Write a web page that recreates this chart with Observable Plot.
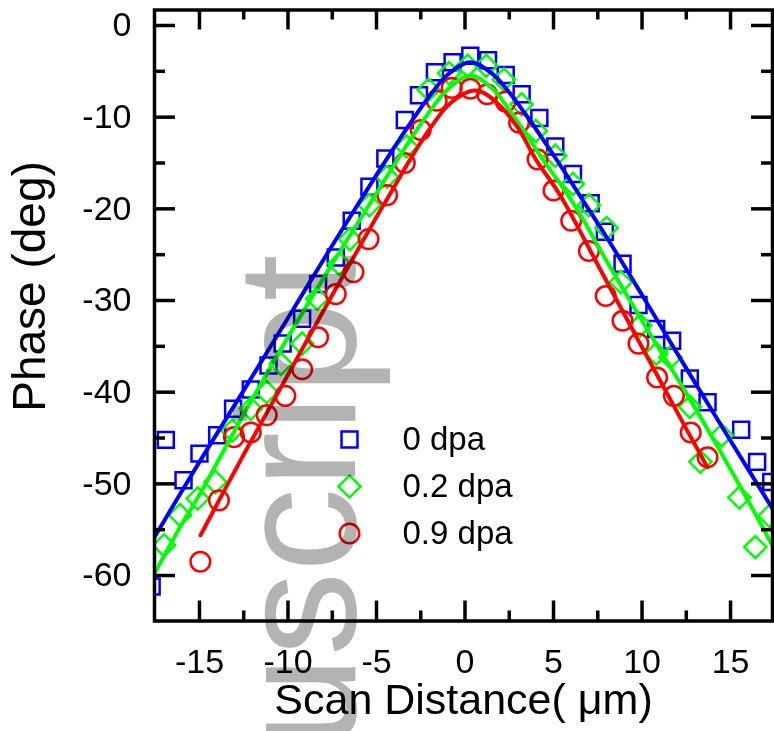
<!DOCTYPE html>
<html><head><meta charset="utf-8">
<script src="https://cdn.jsdelivr.net/npm/d3@7"></script>
<script src="https://cdn.jsdelivr.net/npm/@observablehq/plot@0.6"></script>
<style>html,body{margin:0;padding:0;background:#fff;overflow:hidden}</style>
</head><body><div id="chart"></div>
<script>
// ---- data ----
const blueX = [-17.7,-16.9,-15.9,-15.0,-14.0,-13.1,-12.1,-11.1,-10.3,-9.2,-8.3,-7.3,-6.4,-5.4,-4.5,-3.4,-2.6,-1.7,-0.7,0.3,1.3,2.3,3.2,4.2,5.1,6.1,7.1,7.9,8.9,9.8,10.8,11.7,12.7,13.7,15.6,16.5,17.3];
const blueY = [-61.2,-45.2,-49.6,-46.7,-44.7,-41.8,-39.7,-37.1,-34.7,-32.0,-28.2,-25.3,-21.3,-17.6,-14.5,-10.3,-7.6,-5.1,-4.0,-3.3,-3.8,-5.4,-7.5,-10.1,-13.2,-16.2,-19.4,-22.5,-26.0,-30.5,-33.1,-34.4,-38.5,-41.1,-44.1,-47.6,-49.8];

const greenX = [-17.0,-16.1,-15.1,-14.1,-13.15,-12.1,-11.2,-10.4,-9.2,-8.35,-7.1,-6.5,-5.4,-4.4,-3.3,-2.05,-0.9,0.15,1.2,2.2,3.2,4.0,5.1,6.1,7.0,8.0,8.8,9.9,10.8,11.6,12.7,13.3,14.5,15.5,16.4,17.2];
const greenY = [-56.7,-53.4,-51.6,-49.8,-44.2,-41.8,-40.0,-36.9,-34.7,-29.8,-26.0,-23.3,-19.6,-16.5,-13.2,-7.0,-5.2,-4.4,-4.4,-5.9,-8.6,-11.5,-14.2,-17.3,-19.6,-22.1,-28.0,-32.7,-35.8,-36.2,-41.6,-47.6,-44.7,-51.5,-56.9,-53.5];

const redX = [-14.95,-13.9,-13.05,-12.1,-11.2,-10.15,-9.2,-8.3,-7.3,-6.3,-5.45,-4.4,-3.4,-2.5,-1.6,-0.75,0.3,1.25,2.3,3.05,4.1,5.0,6.0,7.0,7.95,8.9,9.8,10.85,11.8,12.75,13.7];
const redY = [-58.5,-51.8,-44.9,-44.4,-42.5,-40.4,-37.5,-34.0,-29.3,-26.9,-23.3,-18.5,-15.0,-11.4,-8.2,-6.8,-6.9,-7.5,-8.3,-10.6,-14.6,-18.0,-21.3,-24.6,-29.5,-32.2,-34.7,-38.4,-40.4,-44.4,-47.1];

// fitted curves
const blueFitX = [-17.6,-15,-12.5,-10,-7.5,-5,-4,-3,-2,-1,0.3,1.5,2.5,3.5,4.5,5.5,6.5,8,10,12.5,15,17.5];
const blueFitY = [-56.0,-47.6,-39.8,-31.9,-24.0,-16.3,-13.3,-10.4,-7.7,-5.4,-4.0,-5.2,-7.3,-9.9,-12.7,-15.6,-18.6,-23.1,-29.4,-37.4,-45.3,-53.1];
const greenFitX = [-17.6,-16,-15,-12.5,-10,-7.5,-5,-4,-3,-2,-1,0.3,1.5,2.5,3.5,4.5,5.5,6.5,8,10,12.5,15,17.5];
const greenFitY = [-60.0,-54.4,-51.2,-42.4,-34.0,-26.0,-18.3,-15.2,-12.2,-9.4,-7.0,-5.45,-6.8,-9.2,-12.0,-14.9,-17.6,-20.6,-25.7,-32.2,-40.1,-48.4,-57.2];
const redFitX = [-14.94,-12.5,-10,-7.5,-5,-4,-3,-2,-1,0,0.5,1,2,3,4,5.4,7.5,10,12.5,13.7];
const redFitY = [-55.6,-46.8,-38.1,-29.4,-20.9,-17.6,-14.3,-11.3,-8.8,-7.4,-7.1,-7.3,-8.8,-11.2,-14.6,-18.6,-26.1,-35.1,-44.0,-48.2];

const seriesNames = ["0 dpa", "0.2 dpa", "0.9 dpa"];
const seriesColors = ["#0000ff", "#00ff00", "#ff0000"];
const seriesSymbols = ["square", "diamond2", "circle"];
const seriesR = [9, 10, 9.8];

const xMajor = [-15, -10, -5, 0, 5, 10, 15];
const xMinor = [-12.5, -7.5, -2.5, 2.5, 7.5, 12.5];
const yMajor = [0, -10, -20, -30, -40, -50, -60];
const yMinor = [-5, -15, -25, -35, -45, -55];

const xTitle = "Scan Distance( \u03bcm)";
const yTitle = "Phase (deg)";
const watermark = "uscript";

// ---- build tables ----
const zip = (X, Y) => X.map((x, i) => ({x, y: Y[i]}));
const points = [zip(blueX, blueY), zip(greenX, greenY), zip(redX, redY)];
const fits = [zip(blueFitX, blueFitY), zip(greenFitX, greenFitY), zip(redFitX, redFitY)];

const W = 774, H = 731;
const mL = 154, mR = 2, mT = 9.5, mB = 110.5;
const frameH = H - mT - mB, frameW = W - mL - mR;
const ink = "black", tickW = 3.5;

const marks = [];
points.forEach((pts, i) => marks.push(Plot.dot(pts, {
  x: "x", y: "y", symbol: seriesSymbols[i], r: seriesR[i],
  stroke: seriesColors[i], strokeWidth: 2.5, fill: "none", clip: true
})));
fits.forEach((pts, i) => marks.push(Plot.line(pts, {
  x: "x", y: "y", stroke: seriesColors[i], strokeWidth: 4, curve: "catmull-rom", clip: true
})));

marks.push(Plot.frame({stroke: ink, strokeWidth: tickW}));
// inward ticks on all four sides
marks.push(
  Plot.tickX(xMajor, {x: d => d, insetTop: frameH - 20, stroke: ink, strokeWidth: tickW}),
  Plot.tickX(xMinor, {x: d => d, insetTop: frameH - 10, stroke: ink, strokeWidth: tickW}),
  Plot.tickX(xMajor, {x: d => d, insetBottom: frameH - 20, stroke: ink, strokeWidth: tickW}),
  Plot.tickX(xMinor, {x: d => d, insetBottom: frameH - 10, stroke: ink, strokeWidth: tickW}),
  Plot.tickY(yMajor, {y: d => d, insetRight: frameW - 21, stroke: ink, strokeWidth: tickW}),
  Plot.tickY(yMinor, {y: d => d, insetRight: frameW - 11, stroke: ink, strokeWidth: tickW}),
  Plot.tickY(yMajor, {y: d => d, insetLeft: frameW - 21, stroke: ink, strokeWidth: tickW}),
  Plot.tickY(yMinor, {y: d => d, insetLeft: frameW - 11, stroke: ink, strokeWidth: tickW})
);
marks.push(
  Plot.axisX(xMajor, {anchor: "bottom", tickSize: 0, tickPadding: 28, tickFormat: d => String(d), fontSize: 34, label: null}),
  Plot.axisY(yMajor, {anchor: "left", tickSize: 0, tickPadding: 23, tickFormat: d => String(d), fontSize: 34, label: null})
);
marks.push(
  Plot.text([xTitle], {text: d => d, frameAnchor: "bottom", dy: 79, fontSize: 43, textAnchor: "middle", lineAnchor: "middle"}),
  Plot.text([yTitle], {text: d => d, frameAnchor: "left", rotate: -90, dx: -124, dy: -29, fontSize: 46, textAnchor: "middle", lineAnchor: "middle"})
);
// legend
seriesNames.forEach((name, i) => {
  const dy = 429.5 + i * 47;
  marks.push(
    Plot.dot([name], {frameAnchor: "top-left", dx: 195, dy, symbol: seriesSymbols[i], r: seriesR[i], stroke: seriesColors[i], strokeWidth: 2.5, fill: "none"}),
    Plot.text([name], {text: d => d, frameAnchor: "top-left", dx: 248, dy, fontSize: 33, textAnchor: "start", lineAnchor: "middle"})
  );
});
// watermark
marks.push(Plot.text([watermark], {
  text: d => d, frameAnchor: "left", rotate: -90, dx: 147, dy: -61,
  fontSize: 168, textAnchor: "end", lineAnchor: "middle", fill: "#b3b3b3", mixBlendMode: "multiply"
}));

const chart = Plot.plot({
  width: W, height: H,
  marginLeft: mL, marginRight: mR, marginTop: mT, marginBottom: mB,
  x: {domain: [-17.54, 17.37]},
  y: {domain: [-64.96, 1.69]},
  style: {fontFamily: "'Liberation Sans', Arial, Helvetica, sans-serif", background: "white", color: "black"},
  marks
});
document.getElementById("chart").appendChild(chart);
</script>
</body></html>
